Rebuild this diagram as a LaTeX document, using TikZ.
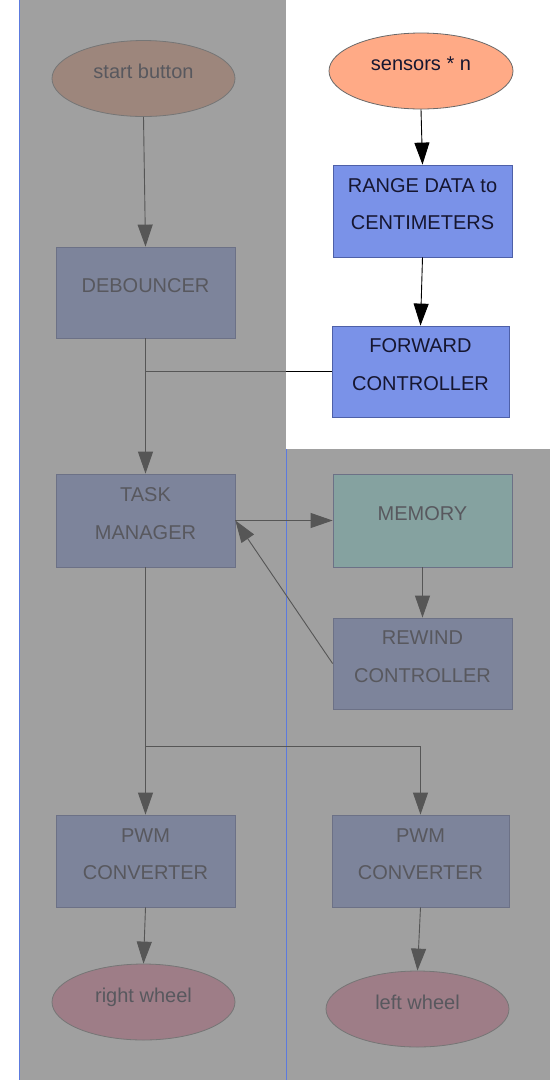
\documentclass[tikz,border=0pt]{standalone}
\usepackage{fontspec}
\setmainfont{Liberation Sans}
\usetikzlibrary{arrows.meta,shapes.geometric}

% colours of the lit (front) part
\definecolor{boxblue}{RGB}{122,146,232}
\definecolor{boxedge}{RGB}{78,96,168}
\definecolor{inkdark}{RGB}{22,22,48}
\definecolor{peach}{RGB}{255,170,134}
\definecolor{ovaledge}{RGB}{105,105,105}
% colours of the greyed-out (back) part
\definecolor{panelgray}{RGB}{160,160,160}
\definecolor{paneledge}{RGB}{92,122,222}
\definecolor{dimblue}{RGB}{125,132,155}
\definecolor{dimedge}{RGB}{108,113,134}
\definecolor{dimink}{RGB}{88,88,94}
\definecolor{dimline}{RGB}{86,86,86}
\definecolor{dimpeach}{RGB}{157,134,124}
\definecolor{dimpink}{RGB}{158,125,135}
\definecolor{dimteal}{RGB}{133,162,160}
\definecolor{dimovaledge}{RGB}{118,118,118}

\newcommand\labfont{\fontsize{20}{37.5}\selectfont}
% extra depth so the text sits a little above the shape's centre
\newcommand\txtlift{\rule[-14pt]{0pt}{0pt}}

\begin{document}
\begin{tikzpicture}[x=1pt,y=-1pt,
  base/.style={align=center,font=\labfont,inner sep=0pt,line width=0.8pt},
  litbox/.style={base,rectangle,draw=boxedge,fill=boxblue,text=inkdark,minimum width=179pt,minimum height=92pt},
  dimbox/.style={base,rectangle,draw=dimedge,fill=dimblue,text=dimink,minimum width=179pt,minimum height=92pt},
  litoval/.style={base,ellipse,draw=ovaledge,fill=peach,text=inkdark,minimum width=184pt,minimum height=76pt},
  dimoval/.style={base,ellipse,draw=dimovaledge,text=dimink,minimum width=183pt,minimum height=76pt},
  litarrow/.style={line width=0.9pt,draw=black,-{Triangle[length=22pt,width=15pt]}},
  dimarrow/.style={line width=0.9pt,draw=dimline,-{Triangle[length=22pt,width=15pt]}},
  dimwire/.style={line width=0.9pt,draw=dimline},
  litwire/.style={line width=0.9pt,draw=black}]

% canvas and the two greyed-out panels
\fill[white] (0,0) rectangle (550,1080);
\useasboundingbox (0,0) rectangle (550,1080);
\fill[panelgray] (19,0) rectangle (286,1080);
\fill[panelgray] (286,449) rectangle (550,1080);
\draw[paneledge,line width=0.8pt] (19,0) -- (19,1080);
\draw[paneledge,line width=0.8pt] (286,449) -- (286,1080);

% nodes
\node[dimoval,fill=dimpeach] (start) at (143.5,78.5) {start button\txtlift};
\node[litoval] (sensors) at (421,71) {sensors * n\txtlift};
\node[litbox] (range) at (422.5,211) {RANGE DATA to\\CENTIMETERS\txtlift};
\node[dimbox,minimum height=91pt] (debouncer) at (145.5,292.5) {DEBOUNCER\txtlift};
\node[litbox,minimum width=177pt,minimum height=91pt] (forward) at (420.5,371.5) {FORWARD\\CONTROLLER\txtlift};
\node[dimbox,minimum height=93pt] (task) at (145.5,520.5) {TASK\\MANAGER\txtlift};
\node[dimbox,fill=dimteal,minimum height=93pt] (memory) at (422.5,520.5) {MEMORY\txtlift};
\node[dimbox,minimum height=91pt] (rewind) at (422.5,663.5) {REWIND\\CONTROLLER\txtlift};
\node[dimbox] (pwmL) at (145.5,861) {PWM\\CONVERTER\txtlift};
\node[dimbox,minimum width=177pt] (pwmR) at (420.5,861) {PWM\\CONVERTER\txtlift};
\node[dimoval,fill=dimpink] (rwheel) at (143.5,1002) {right wheel\txtlift};
\node[dimoval,fill=dimpink] (lwheel) at (417.5,1009) {left wheel\txtlift};

% junction points of the wiring
\coordinate (join) at (debouncer.south |- forward.west);
\coordinate (edge) at (286,0 |- forward.west);
\coordinate (split) at (145.5,746);

% connectors
\draw[dimarrow] (start.south) -- (debouncer.north);
\draw[litarrow] (sensors.south) -- (range.north);
\draw[litarrow] (range.south) -- (forward.north);
\draw[litwire] (forward.west) -- (edge);
\draw[dimwire] (edge) -- (join);
\draw[dimarrow] (debouncer.south) -- (task.north);
\draw[dimarrow] (task.east) -- (memory.west);
\draw[dimarrow] (memory.south) -- (rewind.north);
\draw[dimarrow] (rewind.west) -- (task.east);
\draw[dimarrow] (task.south) -- (pwmL.north);
\draw[dimarrow] (split) -| (pwmR.north);
\draw[dimarrow] (pwmL.south) -- (rwheel.north);
\draw[dimarrow] (pwmR.south) -- (lwheel.north);
\end{tikzpicture}
\end{document}
